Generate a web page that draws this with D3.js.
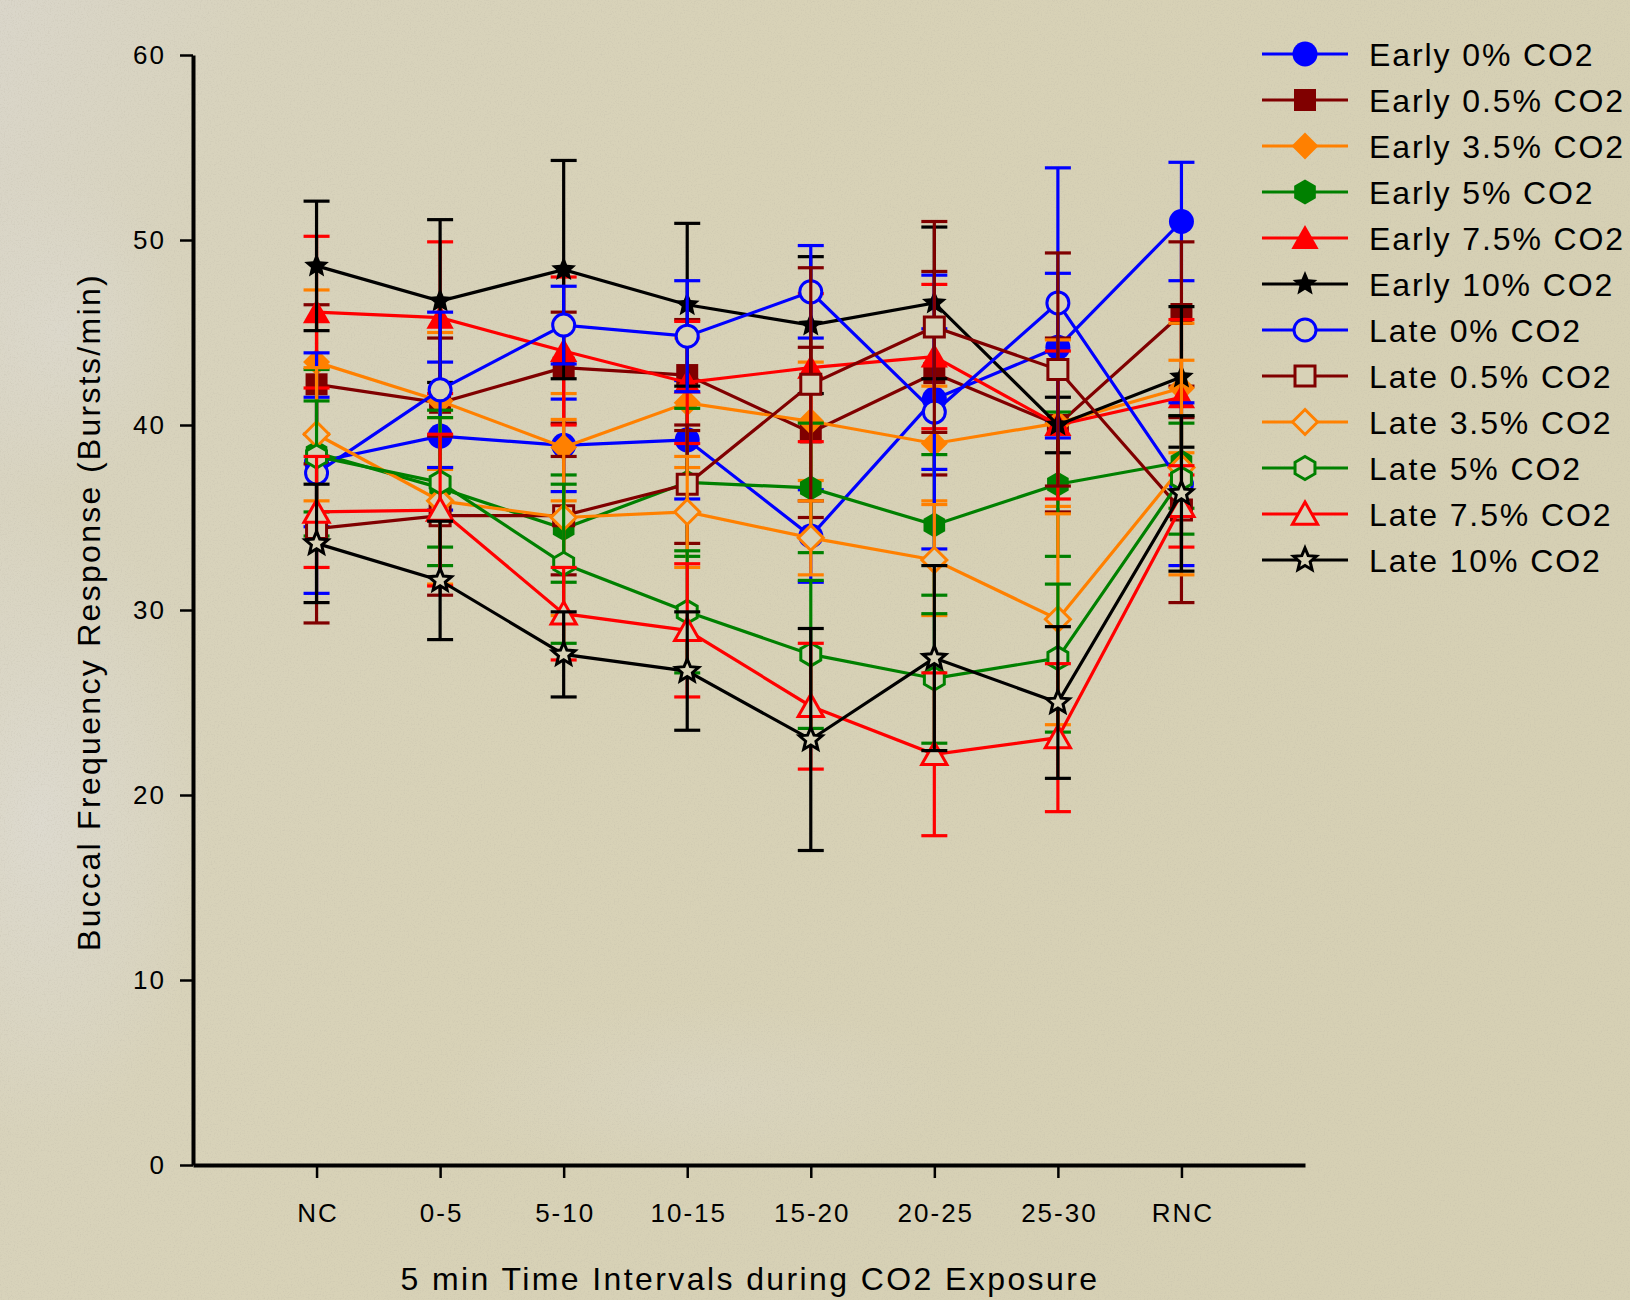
<!DOCTYPE html>
<html>
<head>
<meta charset="utf-8">
<script src="https://cdn.jsdelivr.net/npm/d3@7"></script>
<style>
  body { margin: 0; padding: 0; }
  svg { display: block; }
  text { font-family: "Liberation Sans", Arial, sans-serif; fill: #000; }
</style>
</head>
<body>
<svg id="chart" width="1630" height="1300"></svg>
<script>

// categories and ticks
var categories = ["NC", "0-5", "5-10", "10-15", "15-20", "20-25", "25-30", "RNC"];
var yTicks = [0, 10, 20, 30, 40, 50, 60];

// means
var early0   = [38.0, 39.4, 38.9, 39.2, 34.0, 41.4, 44.2, 51.0];
var early05  = [42.2, 41.2, 43.1, 42.7, 39.6, 42.8, 40.0, 46.0];
var early35  = [43.4, 41.3, 38.8, 41.2, 40.2, 39.0, 40.1, 42.0];
var early5   = [38.5, 36.6, 34.4, 36.9, 36.6, 34.6, 36.8, 38.0];
var early75  = [46.1, 45.8, 44.0, 42.3, 43.1, 43.7, 40.0, 41.5];
var early10  = [48.6, 46.7, 48.4, 46.5, 45.4, 46.6, 40.0, 42.6];
var late0    = [37.4, 41.9, 45.4, 44.8, 47.2, 40.7, 46.6, 36.8];
var late05   = [34.4, 35.1, 35.1, 36.8, 42.2, 45.3, 43.0, 35.4];
var late35   = [39.5, 35.9, 35.0, 35.3, 33.9, 32.7, 29.5, 37.7];
var late5    = [38.3, 36.9, 32.5, 29.9, 27.6, 26.3, 27.4, 37.1];
var late75   = [35.3, 35.4, 29.8, 28.9, 24.8, 22.2, 23.1, 35.6];
var late10   = [33.6, 31.6, 27.6, 26.7, 23.0, 27.4, 25.0, 36.3];

// error bar half-heights
var early0Se  = [3.5, 4.0, 2.5, 3.2, 2.5, 3.8, 4.0, 3.2];
var early05Se = [4.3, 3.5, 3.0, 3.0, 4.6, 5.5, 4.7, 3.9];
var early35Se = [3.9, 3.7, 2.9, 3.5, 3.2, 3.1, 4.5, 3.5];
var early5Se  = [4.5, 4.2, 2.9, 4.0, 3.5, 3.8, 3.9, 2.5];
var early75Se = [4.1, 4.1, 4.0, 3.3, 4.0, 3.9, 4.0, 4.2];
var early10Se = [3.5, 4.4, 5.9, 4.4, 3.7, 4.1, 1.5, 3.8];
var late0Se   = [6.5, 4.2, 2.1, 3.0, 2.5, 7.4, 7.3, 4.4];
var late05Se  = [5.1, 4.3, 3.2, 3.2, 6.3, 5.7, 6.3, 5.0];
var late35Se  = [3.6, 4.5, 5.3, 3.0, 2.0, 3.0, 5.7, 5.8];
var late5Se   = [3.0, 3.5, 4.3, 3.3, 4.0, 3.5, 4.0, 3.0];
var late75Se  = [3.0, 4.1, 2.5, 3.6, 3.4, 4.4, 4.0, 2.2];
var late10Se  = [3.2, 3.2, 2.3, 3.2, 6.0, 5.0, 4.1, 4.2];

var seriesNames = ["Early 0% CO2", "Early 0.5% CO2", "Early 3.5% CO2", "Early 5% CO2",
    "Early 7.5% CO2", "Early 10% CO2", "Late 0% CO2", "Late 0.5% CO2", "Late 3.5% CO2",
    "Late 5% CO2", "Late 7.5% CO2", "Late 10% CO2"];

var bg = '#d8d2b7';
var palette = ['#0000ff', '#800000', '#ff8000', '#008000', '#ff0000', '#000000'];
var shapes = ['circle', 'square', 'diamond', 'hexagon', 'triangle', 'star'];

var means = [early0, early05, early35, early5, early75, early10, late0, late05, late35, late5, late75, late10];
var errs = [early0Se, early05Se, early35Se, early5Se, early75Se, early10Se,
    late0Se, late05Se, late35Se, late5Se, late75Se, late10Se];

var series = seriesNames.map(function(name, i) {
    return {
        name: name,
        color: palette[i % 6],
        shape: shapes[i % 6],
        filled: i < 6,
        values: means[i].map(function(v, j) { return {cat: categories[j], v: v, se: errs[i][j]}; })
    };
});

// marker shapes, size = half extent in px
var symbolTypes = {
    circle: { draw: function(c, s) { c.moveTo(s, 0); c.arc(0, 0, s, 0, 2 * Math.PI); } },
    square: { draw: function(c, s) { c.rect(-s, -s, 2 * s, 2 * s); } },
    diamond: { draw: function(c, s) { c.moveTo(0, -s); c.lineTo(s, 0); c.lineTo(0, s); c.lineTo(-s, 0); c.closePath(); } },
    hexagon: { draw: function(c, s) {
        for (var k = 0; k < 6; k++) {
            var a = -Math.PI / 2 + k * Math.PI / 3;
            if (k == 0) c.moveTo(s * Math.cos(a), s * Math.sin(a));
            else c.lineTo(s * Math.cos(a), s * Math.sin(a));
        }
        c.closePath();
    } },
    triangle: { draw: function(c, s) { c.moveTo(0, -s); c.lineTo(s * 1.05, s * 0.85); c.lineTo(-s * 1.05, s * 0.85); c.closePath(); } },
    star: { draw: function(c, s) {
        for (var k = 0; k < 10; k++) {
            var r = k % 2 ? s * 0.45 : s;
            var a = -Math.PI / 2 + k * Math.PI / 5;
            if (k == 0) c.moveTo(r * Math.cos(a), r * Math.sin(a));
            else c.lineTo(r * Math.cos(a), r * Math.sin(a));
        }
        c.closePath();
    } }
};
var filledSize = {circle: 12.5, square: 11, diamond: 13.5, hexagon: 12.5, triangle: 13, star: 13};
var openSize = {circle: 11, square: 10, diamond: 12.5, hexagon: 11.5, triangle: 12, star: 12};

var svg = d3.select('#chart');

// paper background
var defs = svg.append('defs');
var grad = defs.append('linearGradient').attr('id', 'paperGrad')
    .attr('x1', 0).attr('y1', 0).attr('x2', 1).attr('y2', 0.3);
grad.append('stop').attr('offset', '0%').attr('stop-color', '#dad6ca');
grad.append('stop').attr('offset', '15%').attr('stop-color', '#d8d3bd');
grad.append('stop').attr('offset', '45%').attr('stop-color', '#d8d2b7');
grad.append('stop').attr('offset', '100%').attr('stop-color', '#d6d0b4');

var patch = defs.append('radialGradient').attr('id', 'patch');
patch.append('stop').attr('offset', '0%').attr('stop-color', '#dedbd2').attr('stop-opacity', 0.85);
patch.append('stop').attr('offset', '100%').attr('stop-color', '#dedbd2').attr('stop-opacity', 0);

var noise = defs.append('filter').attr('id', 'speckle');
noise.append('feTurbulence').attr('type', 'fractalNoise').attr('baseFrequency', 0.7)
    .attr('numOctaves', 2).attr('seed', 4);
noise.append('feColorMatrix').attr('type', 'matrix')
    .attr('values', '0 0 0 0 0.5  0 0 0 0 0.47  0 0 0 0 0.38  0 0 0 -3 1.55');

svg.append('rect').attr('width', 1630).attr('height', 1300).attr('fill', 'url(#paperGrad)');
svg.append('ellipse').attr('cx', 40).attr('cy', 820).attr('rx', 170).attr('ry', 320).attr('fill', 'url(#patch)');
svg.append('ellipse').attr('cx', 60).attr('cy', 330).attr('rx', 120).attr('ry', 160).attr('fill', 'url(#patch)').attr('opacity', 0.7);
svg.append('ellipse').attr('cx', 700).attr('cy', 1090).attr('rx', 260).attr('ry', 90).attr('fill', 'url(#patch)').attr('opacity', 0.35);
svg.append('rect').attr('width', 1630).attr('height', 1300).attr('filter', 'url(#speckle)').attr('opacity', 0.25);

var x = d3.scalePoint().domain(categories).range([193, 1305]).padding(1);
var y = d3.scaleLinear().domain([0, 60]).range([1165, 55]);

// axes
var yAxisG = svg.append('g').attr('transform', 'translate(193,0)')
    .call(d3.axisLeft(y).tickValues(yTicks).tickSize(13).tickSizeOuter(0).tickPadding(14));
var xAxisG = svg.append('g').attr('transform', 'translate(0,1165)')
    .call(d3.axisBottom(x).tickSize(13).tickSizeOuter(0).tickPadding(26));

[yAxisG, xAxisG].forEach(function(g) {
    g.select('.domain').attr('stroke', '#000').attr('stroke-width', 4);
    g.selectAll('.tick line').attr('stroke', '#000').attr('stroke-width', 2.5);
    g.selectAll('.tick text').attr('font-family', '"Liberation Sans", Arial, sans-serif')
        .attr('font-size', 26).style('letter-spacing', '2px').attr('fill', '#000');
});
xAxisG.selectAll('.tick text').attr('dy', '0.71em').attr('dx', '1px');

svg.append('text')
    .attr('transform', 'translate(100,612) rotate(-90)')
    .attr('text-anchor', 'middle')
    .attr('font-size', 32).style('letter-spacing', '2.3px')
    .text('Buccal Frequency Response (Bursts/min)');

svg.append('text')
    .attr('x', 750).attr('y', 1290)
    .attr('text-anchor', 'middle')
    .attr('font-size', 32).style('letter-spacing', '2.4px')
    .text('5 min Time Intervals during CO2 Exposure');

// series
var line = d3.line().x(function(d) { return x(d.cat); }).y(function(d) { return y(d.v); });
var capHalf = 13;
var lw = 3.2;

series.forEach(function(s) {
    var g = svg.append('g');
    var eb = g.selectAll('.eb').data(s.values).enter().append('g')
        .attr('stroke', s.color).attr('stroke-width', lw);
    eb.append('line')
        .attr('x1', function(d) { return x(d.cat); }).attr('x2', function(d) { return x(d.cat); })
        .attr('y1', function(d) { return y(d.v + d.se); }).attr('y2', function(d) { return y(d.v - d.se); });
    eb.append('line')
        .attr('x1', function(d) { return x(d.cat) - capHalf; }).attr('x2', function(d) { return x(d.cat) + capHalf; })
        .attr('y1', function(d) { return y(d.v + d.se); }).attr('y2', function(d) { return y(d.v + d.se); });
    eb.append('line')
        .attr('x1', function(d) { return x(d.cat) - capHalf; }).attr('x2', function(d) { return x(d.cat) + capHalf; })
        .attr('y1', function(d) { return y(d.v - d.se); }).attr('y2', function(d) { return y(d.v - d.se); });

    g.append('path').datum(s.values).attr('d', line)
        .attr('fill', 'none').attr('stroke', s.color).attr('stroke-width', lw);

    var sym = d3.symbol().type(symbolTypes[s.shape]).size(s.filled ? filledSize[s.shape] : openSize[s.shape]);
    g.selectAll('.mk').data(s.values).enter().append('path')
        .attr('transform', function(d) { return 'translate(' + x(d.cat) + ',' + y(d.v) + ')'; })
        .attr('d', sym)
        .attr('fill', s.filled ? s.color : bg)
        .attr('stroke', s.color)
        .attr('stroke-width', s.filled ? 0 : 3);
});

// legend
var legend = svg.append('g');
series.forEach(function(s, i) {
    var ly = 54 + i * 46;
    var row = legend.append('g').attr('transform', 'translate(0,' + ly + ')');
    row.append('line').attr('x1', 1262).attr('x2', 1348).attr('y1', 0).attr('y2', 0)
        .attr('stroke', s.color).attr('stroke-width', lw);
    row.append('path').attr('transform', 'translate(1305,0)')
        .attr('d', d3.symbol().type(symbolTypes[s.shape]).size(s.filled ? filledSize[s.shape] : openSize[s.shape]))
        .attr('fill', s.filled ? s.color : bg)
        .attr('stroke', s.color).attr('stroke-width', s.filled ? 0 : 3);
    row.append('text').attr('x', 1369).attr('y', 11.5)
        .attr('font-size', 32).style('letter-spacing', '1.9px')
        .text(s.name);
});

</script>
</body>
</html>
